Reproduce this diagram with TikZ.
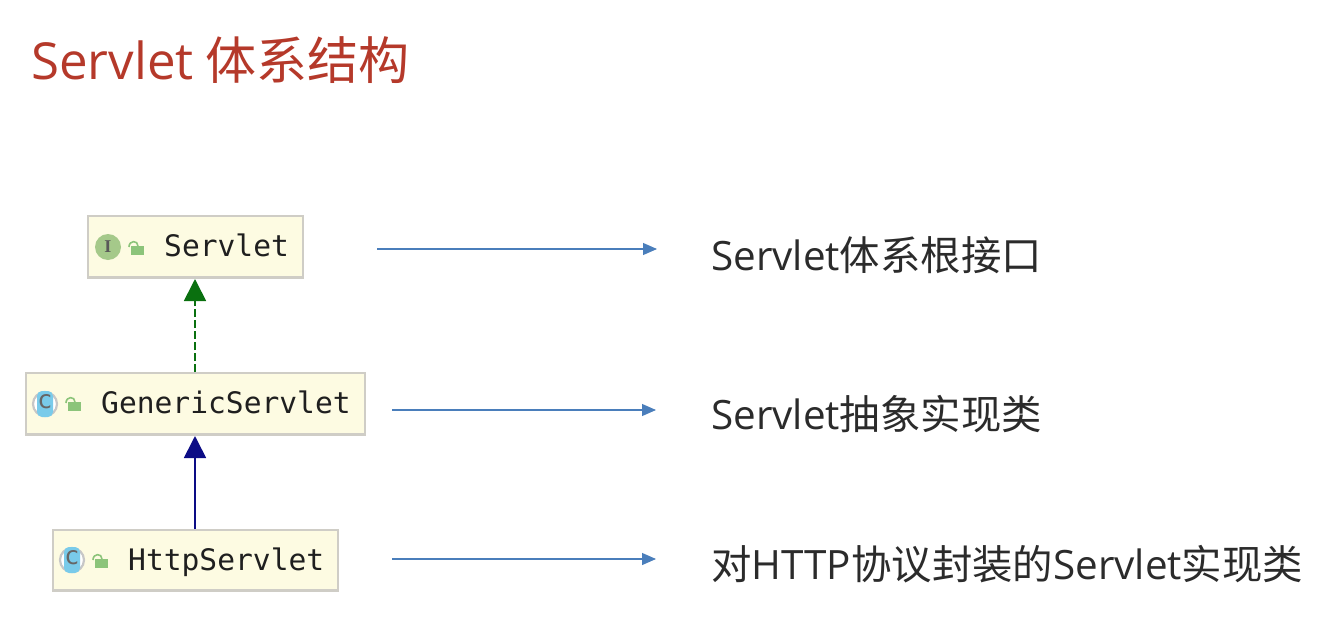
\documentclass[tikz,border=0pt]{standalone}
\usepackage{fontspec}
\setmainfont{Noto Sans CJK SC}
\newfontfamily\cjkfont{Noto Sans CJK SC}
\newfontfamily\latinfont{Open Sans}
\newfontfamily\codefont{DejaVu Sans Mono}
\usetikzlibrary{arrows.meta}
\definecolor{titlered}{HTML}{B5392A}
\definecolor{boxfill}{HTML}{FDFBE2}
\definecolor{boxline}{HTML}{CFCDC6}
\definecolor{flowblue}{HTML}{4A7EBB}
\definecolor{implgreen}{HTML}{0A700F}
\definecolor{extnavy}{HTML}{0C0C85}
\definecolor{lockgreen}{HTML}{8CC47A}
\definecolor{ifacegreen}{HTML}{A5C98A}
\definecolor{classblue}{HTML}{79CBEA}
\definecolor{bodytext}{HTML}{2B2B2B}
\tikzset{
  x=1pt,y=-1pt,
  umlbox/.style={draw=boxline,line width=1.6pt,fill=boxfill,inner sep=0pt,anchor=north west},
  codetext/.style={font=\codefont\fontsize{29.6}{30}\selectfont,text=black!88,inner sep=0pt,anchor=base west},
  desc/.style={font=\fontsize{40.4}{41}\selectfont,text=bodytext,inner sep=0pt,anchor=base west},
  flow/.style={draw=flowblue,line width=1.1pt,-{Triangle[length=14pt,width=12pt]}},
  implarrow/.style={draw=implgreen,line width=1.7pt,dash pattern=on 8pt off 3pt,-{Triangle[length=22pt,width=22pt]}},
  extarrow/.style={draw=extnavy,line width=1.7pt,-{Triangle[length=22pt,width=22pt]}},
  ifaceicon/.style={circle,fill=ifacegreen,minimum size=26pt,inner sep=0pt,font=\fontspec{Liberation Serif}\bfseries\fontsize{18}{18}\selectfont,text=black!65},
  classicon/.style={circle,draw=black!22,line width=2.2pt,fill=white,minimum size=24pt,inner sep=0pt},
  lockbody/.style={fill=lockgreen,draw=none},
  lockarc/.style={draw=lockgreen,line width=1.6pt},
}
\newcommand{\lockicon}[2]{%
  \draw[lockarc] (#1+1,#2+6) .. controls (#1+1,#2-1) and (#1+10,#2-1) .. (#1+10,#2+5);
  \fill[lockbody] (#1+3,#2+5) rectangle (#1+16,#2+14);
}
\newcommand{\classbadge}[3]{%
  \node[classicon] (#3) at (#1,#2) {};
  \fill[classblue,rounded corners=5pt] (#1-8,#2-13) rectangle (#1+8,#2+13);
  \node[inner sep=0pt,font=\codefont\fontsize{25}{25}\selectfont,text=black!60] at (#1,#2-2) {c};
}
\begin{document}
\begin{tikzpicture}
\useasboundingbox (0,0) rectangle (1321,621);
\fill[white] (0,0) rectangle (1321,621);

\node[inner sep=0pt,anchor=base west,text=titlered,font=\fontsize{51}{51}\selectfont] (title) at (31,79) {{\latinfont Servlet} 体系结构};

% UML boxes
\node[umlbox,minimum width=215pt,minimum height=61pt] (servlet) at (87,215) {};
\node[umlbox,minimum width=339pt,minimum height=61pt] (generic) at (25,372) {};
\node[umlbox,minimum width=285pt,minimum height=60pt] (http) at (52,529) {};
\draw[boxline,line width=3pt] (servlet.south west) -- (servlet.south east);
\draw[boxline,line width=3pt] (generic.south west) -- (generic.south east);
\draw[boxline,line width=3pt] (http.south west) -- (http.south east);

% Box contents
\node[ifaceicon] (iconI) at (108,247) {I};
\lockicon{128}{241}
\node[codetext] (servletText) at (164,256) {Servlet};

\classbadge{45}{404}{iconG}
\lockicon{65}{397}
\node[codetext] (genericText) at (101,413) {GenericServlet};

\classbadge{72}{560}{iconH}
\lockicon{92}{554}
\node[codetext] (httpText) at (128,570) {HttpServlet};

% Inheritance connectors
\coordinate (implEnd) at (195,279);
\coordinate (implStart) at (195,372);
\coordinate (extEnd) at (195,436);
\coordinate (extStart) at (195,529);
\draw[implarrow] (implStart) -- (implEnd);
\draw[extarrow] (extStart) -- (extEnd);

% Descriptions
\node[desc] (d1) at (711,270) {{\latinfont Servlet}体系根接口};
\node[desc] (d2) at (711,429) {{\latinfont Servlet}抽象实现类};
\node[desc] (d3) at (711,579) {对{\latinfont HTTP}协议封装的{\latinfont Servlet}实现类};

% Flow connectors
\coordinate (f1a) at (377,249); \coordinate (f1b) at (657,249);
\coordinate (f2a) at (392,410); \coordinate (f2b) at (656,410);
\coordinate (f3a) at (392,559); \coordinate (f3b) at (656,559);
\draw[flow] (f1a) -- (f1b);
\draw[flow] (f2a) -- (f2b);
\draw[flow] (f3a) -- (f3b);
\end{tikzpicture}
\end{document}
